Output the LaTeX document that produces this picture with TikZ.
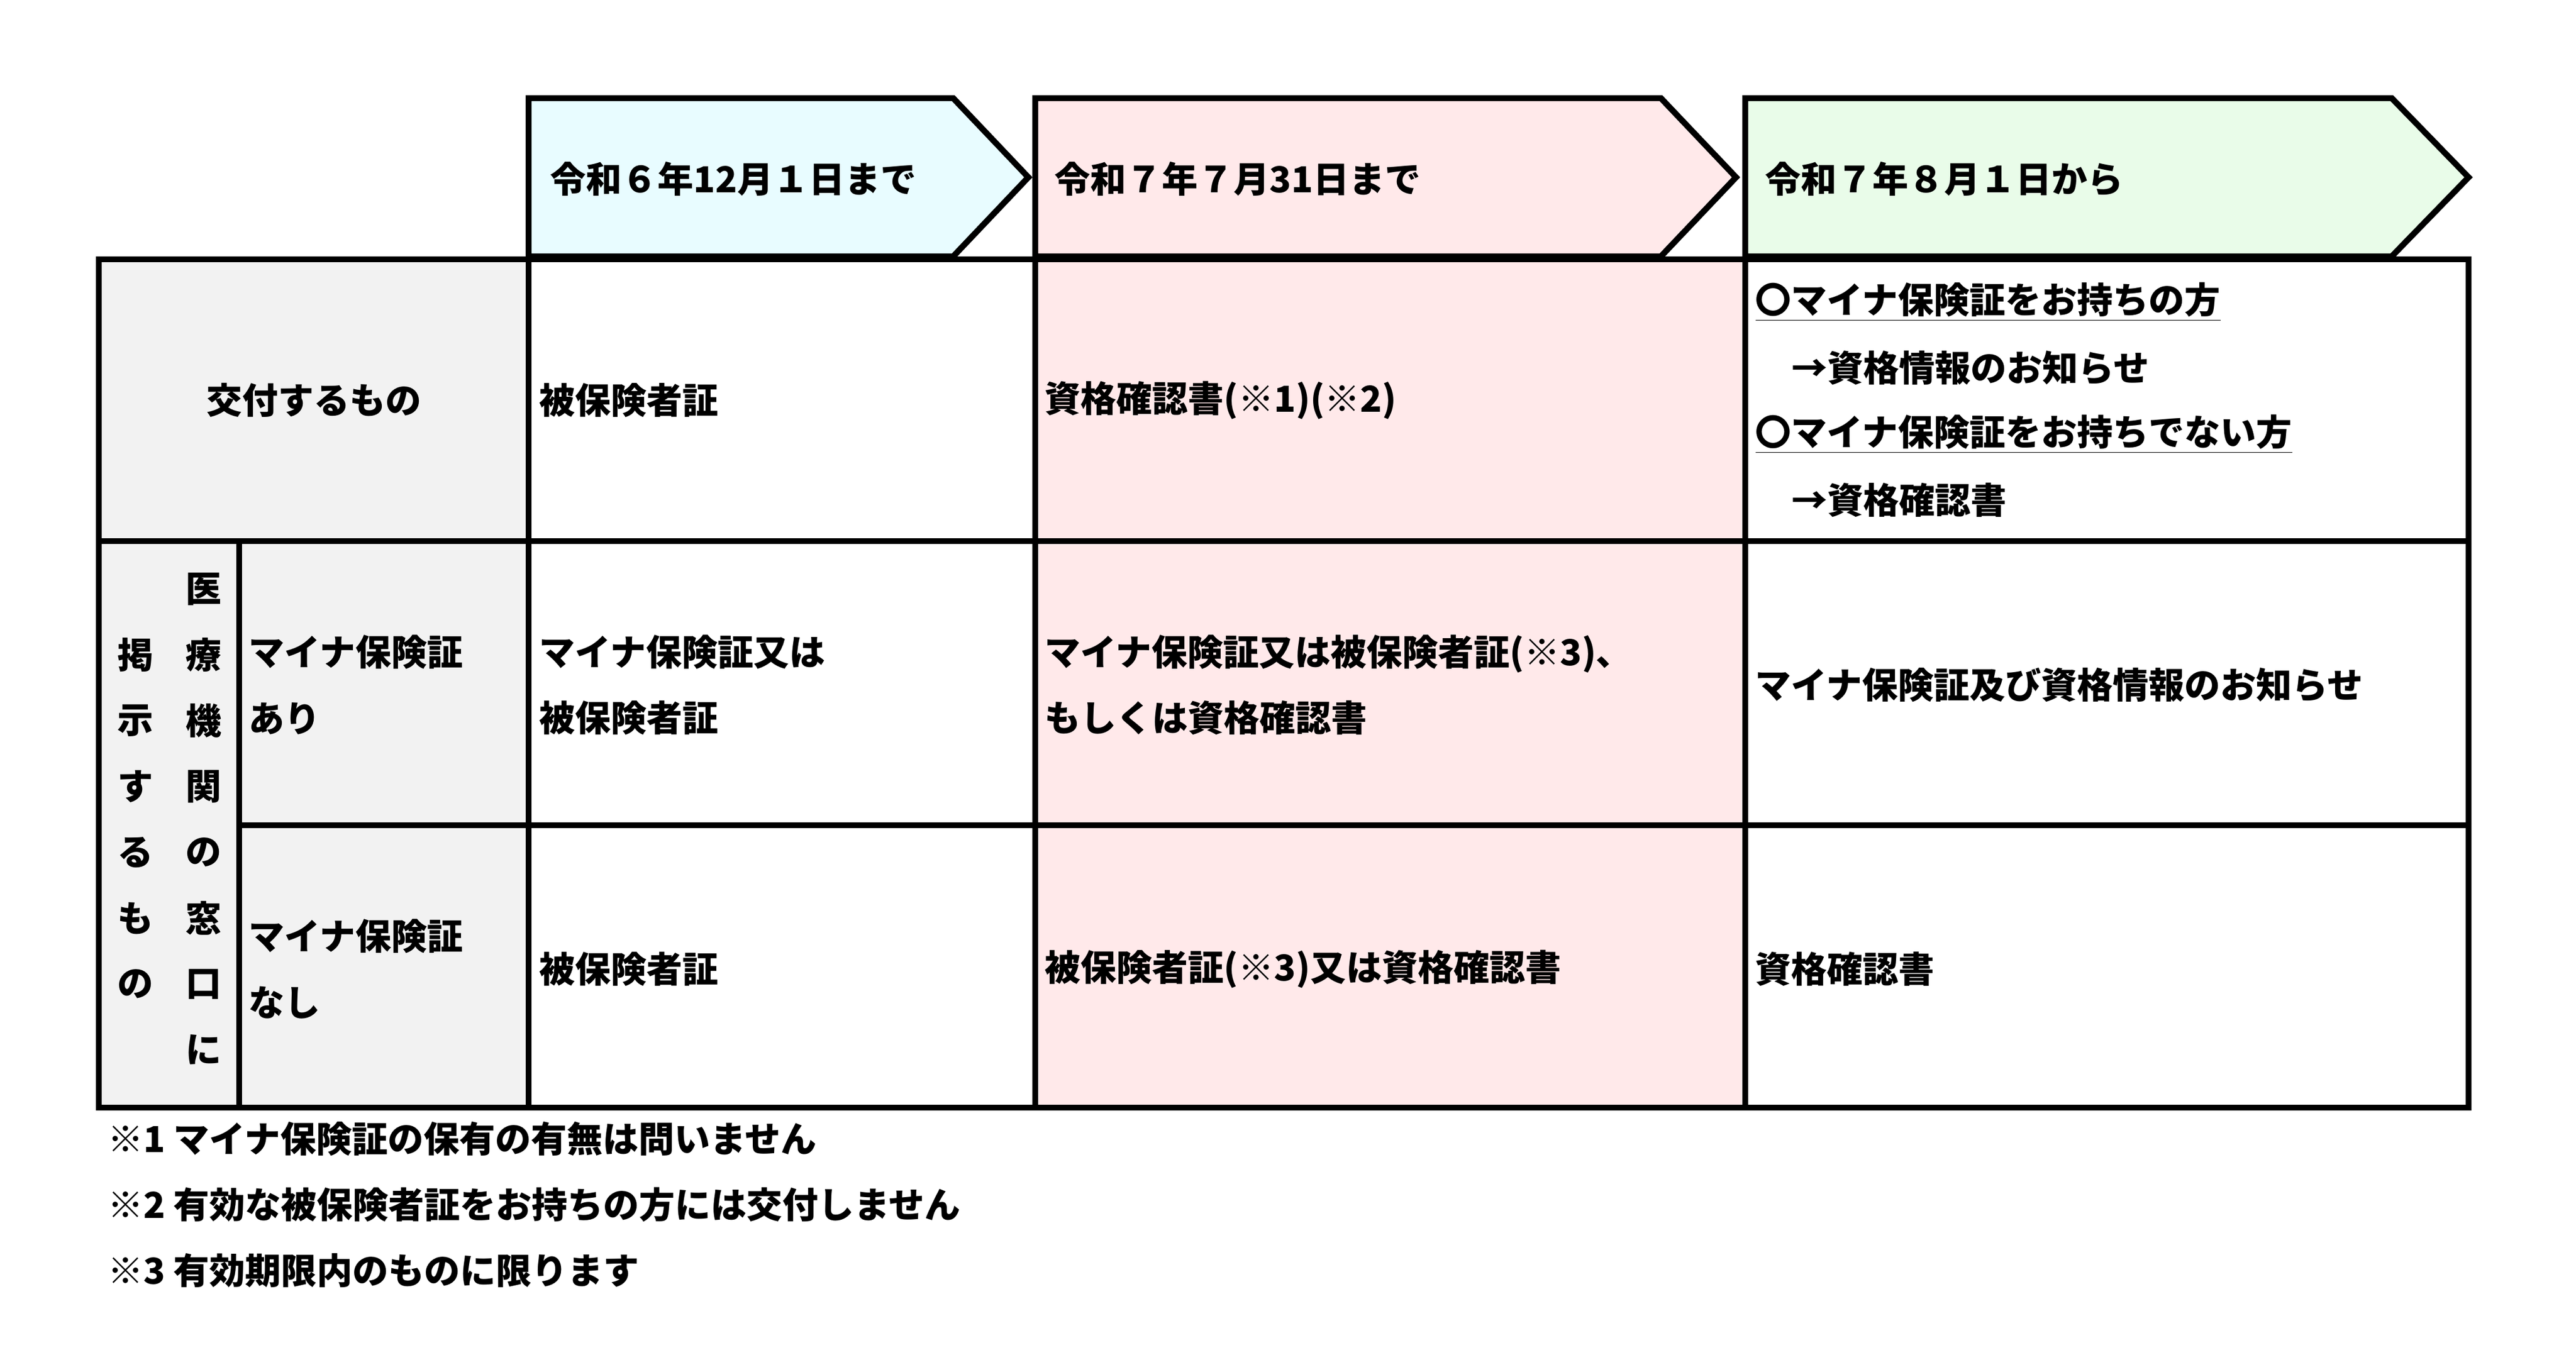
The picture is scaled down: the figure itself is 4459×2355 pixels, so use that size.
\documentclass[tikz,border=0pt]{standalone}
\usepackage{fontspec}
\setmainfont{Noto Sans CJK JP}
\begin{document}
\begin{tikzpicture}[x=0.25pt,y=-0.25pt,
  grid/.style={line width=2.6pt},
  txt/.style={anchor=west,inner sep=0pt,font=\fontsize{15.5}{28.6}\selectfont\bfseries,align=left},
  vt/.style={inner sep=0pt,font=\fontsize{15.5}{28.6}\selectfont\bfseries}]
\useasboundingbox (0,0) rectangle (4459,2355);
\definecolor{cy}{HTML}{E8FCFF}\definecolor{pk}{HTML}{FFE9EA}\definecolor{gn}{HTML}{E9FCE9}\definecolor{gy}{HTML}{F2F2F2}
% fills
\fill[gy] (171,449) rectangle (915,1918);
\fill[pk] (1792,449) rectangle (3021,1918);
% arrows
\draw[grid,fill=cy] (915,170) -- (1650,170) -- (1780,307) -- (1650,444) -- (915,444) -- cycle;
\draw[grid,fill=pk] (1792,170) -- (2875,170) -- (3005,307) -- (2875,444) -- (1792,444) -- cycle;
\draw[grid,fill=gn] (3021,170) -- (4140,170) -- (4273,307) -- (4140,444) -- (3021,444) -- cycle;
% grid
\draw[grid] (171,449) rectangle (4273,1918);
\draw[grid] (171,937) -- (4273,937);
\draw[grid] (414,1429) -- (4273,1429);
\draw[grid] (414,937) -- (414,1918);
\foreach \x in {915,1792,3021} \draw[grid] (\x,449) -- (\x,1918);
% header texts
\node[txt] (h1) at (952,310) {令和６年12月１日まで};
\node[txt] (h2) at (1825,310) {令和７年７月31日まで};
\node[txt] (h3) at (3055,310) {令和７年８月１日から};
% row 1
\node[vt] (r1) at (543,693) {交付するもの};
\node[txt] (c11) at (933,693) {被保険者証};
\node[txt] (c12) at (1808,693) {資格確認書(※1)(※2)};
\node[txt] (c13a) at (3038,523) {\underline{〇マイナ保険証をお持ちの方}};
\node[txt] (c13b) at (3101,637) {→資格情報のお知らせ};
\node[txt] (c13c) at (3038,752) {\underline{〇マイナ保険証をお持ちでない方}};
\node[txt] (c13d) at (3101,866) {→資格確認書};
% row 2
\node[txt] (s1) at (430,1186) {マイナ保険証\\あり};
\node[txt] (c21) at (933,1186) {マイナ保険証又は\\被保険者証};
\node[txt] (c22) at (1808,1186) {マイナ保険証又は被保険者証(※3)、\\もしくは資格確認書};
\node[txt] (c23) at (3038,1186) {マイナ保険証及び資格情報のお知らせ};
% row 3
\node[txt] (s2) at (430,1678) {マイナ保険証\\なし};
\node[txt] (c31) at (933,1678) {被保険者証};
\node[txt] (c32) at (1808,1678) {被保険者証(※3)又は資格確認書};
\node[txt] (c33) at (3038,1678) {資格確認書};
% vertical texts
\foreach \c [count=\i from 0] in {医,療,機,関,の,窓,口,に}
  \node[vt] (va\i) at (352,1020+114*\i) {\c};
\foreach \c [count=\i from 0] in {掲,示,す,る,も,の}
  \node[vt] (vb\i) at (234,1134+114*\i) {\c};
% footnotes
\node[txt] (f1) at (186,1972) {※1 マイナ保険証の保有の有無は問いません};
\node[txt] (f2) at (186,2086) {※2 有効な被保険者証をお持ちの方には交付しません};
\node[txt] (f3) at (186,2200) {※3 有効期限内のものに限ります};
\end{tikzpicture}
\end{document}
